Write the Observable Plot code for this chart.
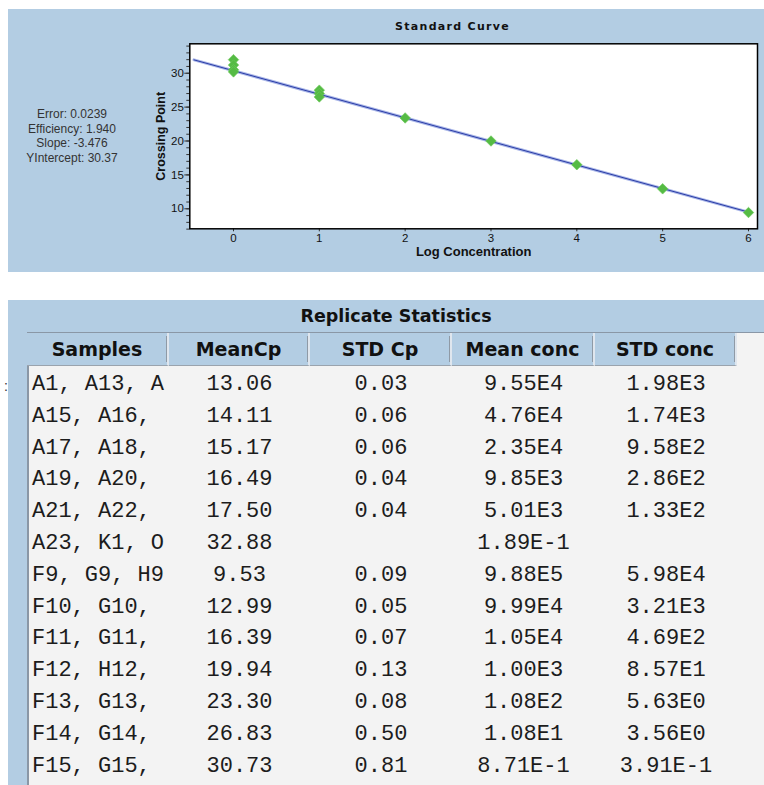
<!DOCTYPE html>
<html>
<head>
<meta charset="utf-8">
<script src="https://cdn.jsdelivr.net/npm/d3@7"></script>
<script src="https://cdn.jsdelivr.net/npm/@observablehq/plot@0.6"></script>
<style>
  html, body { margin: 0; padding: 0; background: #ffffff; width: 764px; height: 785px; overflow: hidden; }
  #root { position: relative; width: 764px; height: 785px; }
  .abs { position: absolute; white-space: nowrap; }
  #panel { position: absolute; left: 8px; top: 9px; width: 756px; height: 263px; background: #b3cde3; }
  #panel svg { position: absolute; left: 0; top: 0; background: transparent; }
  #title { font-family: "DejaVu Sans", sans-serif; font-weight: bold; font-size: 11px; letter-spacing: 1.3px; color: #111; }
  #stats { font-family: "Liberation Sans", Arial, sans-serif; font-size: 12px; line-height: 14.5px; color: #333; text-align: center; width: 140px; }
  #tablePanel { position: absolute; left: 8px; top: 300px; width: 756px; height: 485px; background: #b3cde3; }
  #tbody { position: absolute; left: 27px; top: 332px; width: 737px; height: 453px; background: #f3f3f3; border-left: 2px solid #8a97a6; border-top: 1px solid #8a97a6; box-sizing: border-box; }
  .hdr { position: absolute; top: 333px; height: 33px; background: #b3cde3; border-right: 2px solid #dfe6ee; border-bottom: 1px solid #9aa3ad; box-sizing: border-box; font-family: "DejaVu Sans", sans-serif; font-weight: bold; font-size: 19px; color: #111; text-align: center; line-height: 33px; }
  .hdr::after { content: ""; position: absolute; right: 0; top: 3px; bottom: 3px; width: 1px; background: #8f9aa6; }
  .cell { position: absolute; font-family: "Liberation Mono", monospace; font-size: 22px; color: #1c1c1c; line-height: 24px; height: 24px; }
  #rtitle { font-family: "DejaVu Sans", sans-serif; font-weight: bold; font-size: 17.5px; color: #111; }
</style>
</head>
<body>
<div id="root">
  <div id="panel"></div>
  <div id="title" class="abs" style="left:395px; top:20px;">Standard Curve</div>
  <div id="stats" class="abs" style="left:2px; top:107px;"></div>
  <div id="tablePanel"></div>
  <div id="tbody"></div>
  <div id="rtitle" class="abs" style="left:396px; top:316px; transform: translate(-50%, -50%);">Replicate Statistics</div>
  <div class="abs" style="left:4px; top:378px; font-family:'Liberation Sans',sans-serif; font-size:14px; color:#333;">:</div>
</div>
<script>
// ---- Standard curve data ----
const stdLogConc = [0, 0, 0, 0, 1, 1, 1, 2, 3, 4, 5, 6];
const stdCrossingPoint = [32.0, 31.2, 30.5, 30.2, 27.5, 27.0, 26.5, 23.4, 20.0, 16.5, 12.95, 9.45];
const fitLogConc = [-0.46, 6];
const fitSlope = -3.476;
const fitIntercept = 30.37;
const statLines = ["Error: 0.0239", "Efficiency: 1.940", "Slope: -3.476", "YIntercept: 30.37"];
const xLabel = "Log Concentration";
const yLabel = "Crossing Point";
const xTicks = [0, 1, 2, 3, 4, 5, 6];
const yTicks = [10, 15, 20, 25, 30];
const yMinorTicks = [7, 8, 9, 10, 11, 12, 13, 14, 15, 16, 17, 18, 19, 20, 21, 22, 23, 24, 25, 26, 27, 28, 29, 30, 31, 32, 33, 34];

// ---- Replicate statistics table data ----
const tableTitle = "Replicate Statistics";
const columns = ["Samples", "MeanCp", "STD Cp", "Mean conc", "STD conc"];
const samples = ["A1, A13, A", "A15, A16,", "A17, A18,", "A19, A20,", "A21, A22,", "A23, K1, O", "F9, G9, H9", "F10, G10,", "F11, G11,", "F12, H12,", "F13, G13,", "F14, G14,", "F15, G15,"];
const meanCp = ["13.06", "14.11", "15.17", "16.49", "17.50", "32.88", "9.53", "12.99", "16.39", "19.94", "23.30", "26.83", "30.73"];
const stdCp = ["0.03", "0.06", "0.06", "0.04", "0.04", "", "0.09", "0.05", "0.07", "0.13", "0.08", "0.50", "0.81"];
const meanConc = ["9.55E4", "4.76E4", "2.35E4", "9.85E3", "5.01E3", "1.89E-1", "9.88E5", "9.99E4", "1.05E4", "1.00E3", "1.08E2", "1.08E1", "8.71E-1"];
const stdConc = ["1.98E3", "1.74E3", "9.58E2", "2.86E2", "1.33E2", "", "5.98E4", "3.21E3", "4.69E2", "8.57E1", "5.63E0", "3.56E0", "3.91E-1"];

// ---- Build chart ----
const points = stdLogConc.map((x, i) => ({x, y: stdCrossingPoint[i]}));
const fit = fitLogConc.map(x => ({x, y: fitIntercept + fitSlope * x}));

const chart = Plot.plot({
  width: 756,
  height: 263,
  marginLeft: 181.3,
  marginRight: 7,
  marginTop: 34.3,
  marginBottom: 43.7,
  style: {background: "transparent", fontFamily: "'Liberation Sans', Arial, sans-serif", fontSize: "12px", color: "#111"},
  x: {domain: [-0.509, 6.105]},
  y: {domain: [7.05, 34.34]},
  marks: [
    Plot.frame({fill: "white"}),
    Plot.axisY(yMinorTicks, {tickSize: 3, text: null, stroke: "#333", label: null}),
    Plot.axisY(yTicks, {tickSize: 5, tickPadding: 1, stroke: "#333", fontSize: 11.5, label: null}),
    Plot.axisX(xTicks, {tickSize: 3, tickPadding: 2, stroke: "#333", fontSize: 11.5, label: null}),
    Plot.text([yLabel], {frameAnchor: "left", textAnchor: "middle", dx: -28.5, rotate: -90, fontWeight: "bold", fontSize: 12.5, fill: "#111"}),
    Plot.text([xLabel], {frameAnchor: "bottom", dy: 27, fontWeight: "bold", fontSize: 13, fill: "#111"}),
    Plot.line(fit, {x: "x", y: "y", stroke: "#a9b6e8", strokeWidth: 3}),
    Plot.line(fit, {x: "x", y: "y", stroke: "#2a3ca6", strokeWidth: 1}),
    Plot.dot(points, {x: "x", y: "y", symbol: "square", rotate: 45, r: 4.2, fill: "#55bb44", stroke: "#6cc95a", strokeWidth: 0.6}),
    Plot.frame({stroke: "#000", strokeWidth: 1.5})
  ]
});
document.getElementById("panel").appendChild(chart);

document.getElementById("stats").innerHTML = statLines.join("<br>");

// ---- Build table ----
const root = document.getElementById("root");
document.getElementById("rtitle").textContent = tableTitle;
const colX = [27, 169, 310, 452, 595, 737];
columns.forEach((c, j) => {
  const d = document.createElement("div");
  d.className = "hdr";
  d.style.left = colX[j] + "px";
  d.style.width = (colX[j + 1] - colX[j]) + "px";
  d.textContent = c;
  root.appendChild(d);
});
const colsData = [samples, meanCp, stdCp, meanConc, stdConc];
samples.forEach((_, i) => {
  const cy = 385 + 31.8 * i;
  colsData.forEach((arr, j) => {
    const v = arr[i];
    if (!v) return;
    const d = document.createElement("div");
    d.className = "cell";
    d.style.top = (cy - 12) + "px";
    if (j === 0) {
      d.style.left = "32px";
    } else {
      d.style.left = colX[j] + "px";
      d.style.width = (colX[j + 1] - colX[j]) + "px";
      d.style.textAlign = "center";
    }
    d.textContent = v;
    root.appendChild(d);
  });
});
</script>
</body>
</html>
